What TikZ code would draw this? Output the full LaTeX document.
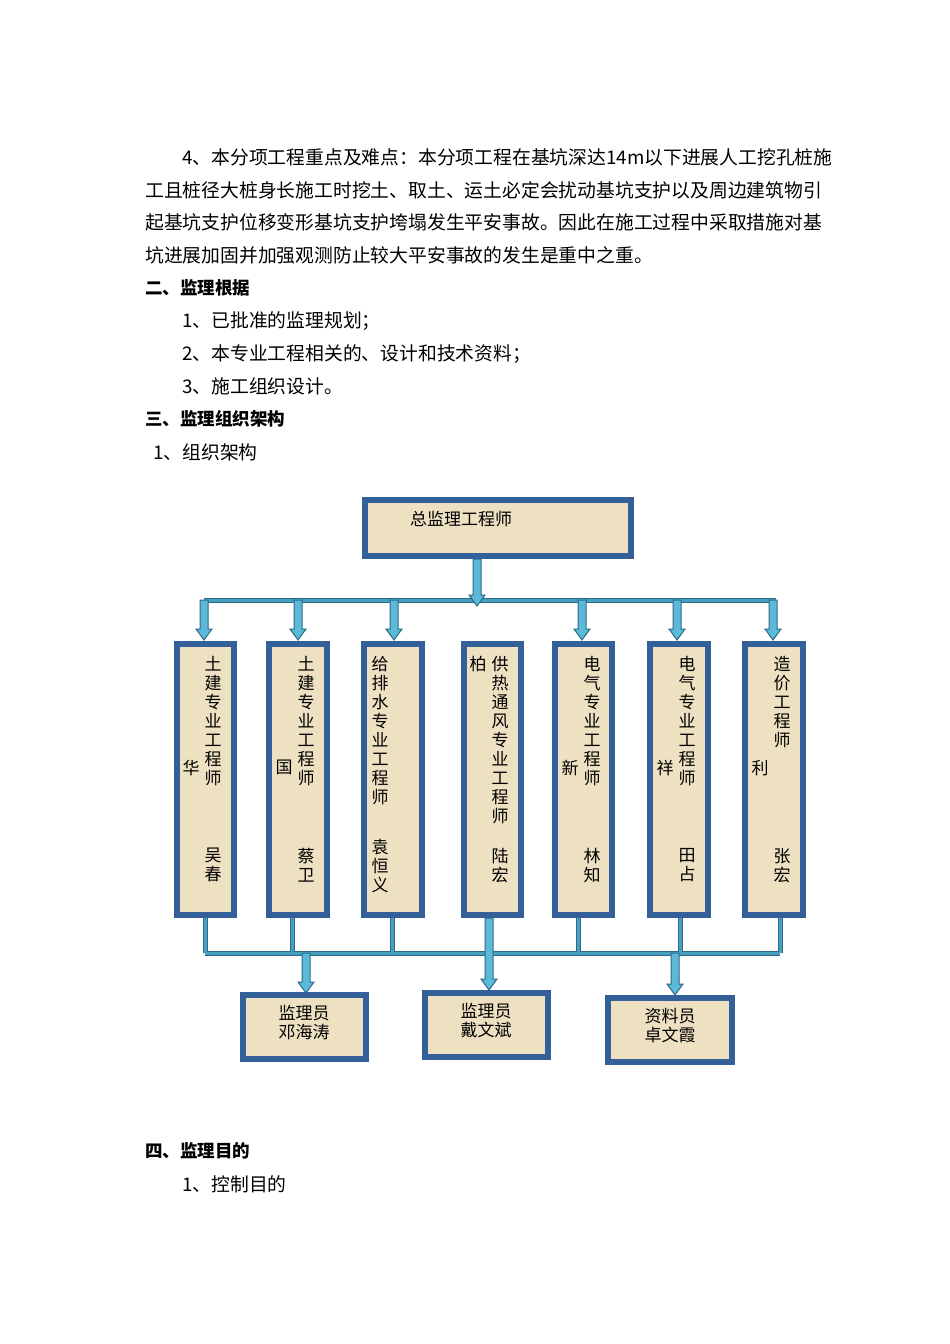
\documentclass[tikz,border=0pt]{standalone}
\usepackage{fontspec}
\setmainfont{Noto Sans CJK SC}
\begin{document}
\begin{tikzpicture}[x=1pt,y=-1pt,
  body/.style={anchor=west,inner sep=0pt,font=\fontsize{18.8}{20}\selectfont},
  head/.style={body,font=\fontsize{17.5}{20}\selectfont\bfseries},
  frame/.style={draw=boxblue,line width=6pt,fill=parch},
  vt/.style={inner sep=0pt,align=center,anchor=north,font=\fontsize{17}{19}\selectfont},
  conn/.style={line width=5pt,draw=lineedge},
  conni/.style={line width=3pt,draw=linefill}]
\definecolor{boxblue}{HTML}{34609A}
\definecolor{parch}{HTML}{EEE1C2}
\definecolor{lineedge}{HTML}{2C6A86}
\definecolor{linefill}{HTML}{47A0BF}
\definecolor{arrfill}{HTML}{5CB9DA}
\newcommand{\darr}[3]{\filldraw[fill=arrfill,draw=lineedge,line width=1pt]
  (#1-4,#2) -- (#1+4,#2) -- (#1+4,#3-11) -- (#1+8,#3-11) -- (#1,#3) -- (#1-8,#3-11) -- (#1-4,#3-11) -- cycle;}
\useasboundingbox (0,0) rectangle (950,1344);
% body text
\node[body] (l1) at (182,157) {4、本分项工程重点及难点：本分项工程在基坑深达14m以下进展人工挖孔桩施};
\node[body] (l2) at (145,190) {工且桩径大桩身长施工时挖土、取土、运土必定会扰动基坑支护以及周边建筑物引};
\node[body] (l3) at (145,222) {起基坑支护位移变形基坑支护垮塌发生平安事故。因此在施工过程中采取措施对基};
\node[body] (l4) at (145,255) {坑进展加固并加强观测防止较大平安事故的发生是重中之重。};
\node[head] (h2) at (145,288) {二、监理根据};
\node[body] (a1) at (182,321) {1、已批准的监理规划；};
\node[body] (a2) at (182,354) {2、本专业工程相关的、设计和技术资料；};
\node[body] (a3) at (182,386) {3、施工组织设计。};
\node[head] (h3) at (145,419) {三、监理组织架构};
\node[body] (b1) at (153,452) {1、组织架构};
\node[head] (h4) at (145,1151) {四、监理目的};
\node[body] (c1) at (182,1184) {1、控制目的};
% connectors
\foreach \s in {conn,conni}{
  \draw[\s] (204,600) -- (776,600);
  \draw[\s] (205,953) -- (780,953);
  \foreach \x/\y in {205/918,292/918,392/918,578/918,680/918,780/918}
    \draw[\s] (\x,\y) -- (\x,953);
}
\darr{477}{559}{606}
\foreach \x in {204,298,394,582,677,773} {\darr{\x}{600}{640}}
\darr{306}{953}{993}
\darr{675}{953}{995}
\darr{489}{918}{990}
% top box
\draw[frame] (365,500) rectangle (631,556);
\node[inner sep=0pt,anchor=west,font=\fontsize{17}{18}\selectfont] (top) at (410,519) {总监理工程师};
% vertical boxes
\foreach \xl/\xr in {174/237,266/330,361/425,461/524,552/615,647/711,742/806}
  \draw[frame] (\xl+3,644) rectangle (\xr-3,915);
\node[vt] (t1) at (213,656) {土\\建\\专\\业\\工\\程\\师};
\node[vt] (n1) at (191,760) {华};
\node[vt] (m1) at (213,848) {吴\\春};
\node[vt] (t2) at (306,656) {土\\建\\专\\业\\工\\程\\师};
\node[vt] (n2) at (284,760) {国};
\node[vt] (m2) at (306,848) {蔡\\卫};
\node[vt] (t3) at (380,656) {给\\排\\水\\专\\业\\工\\程\\师};
\node[vt] (m3) at (380,839) {袁\\恒\\义};
\node[vt] (n4) at (478,656) {柏};
\node[vt] (t4) at (500,656) {供\\热\\通\\风\\专\\业\\工\\程\\师};
\node[vt] (m4) at (500,848) {陆\\宏};
\node[vt] (t5) at (592,656) {电\\气\\专\\业\\工\\程\\师};
\node[vt] (n5) at (570,760) {新};
\node[vt] (m5) at (592,848) {林\\知};
\node[vt] (t6) at (687,656) {电\\气\\专\\业\\工\\程\\师};
\node[vt] (n6) at (665,760) {祥};
\node[vt] (m6) at (687,848) {田\\占};
\node[vt] (t7) at (782,656) {造\\价\\工\\程\\师};
\node[vt] (n7) at (760,760) {利};
\node[vt] (m7) at (782,848) {张\\宏};
% bottom boxes
\draw[frame] (243,995) rectangle (366,1059);
\node[vt,anchor=center] (p1) at (304,1023) {监理员\\邓海涛};
\draw[frame] (425,993) rectangle (548,1057);
\node[vt,anchor=center] (p2) at (486,1021) {监理员\\戴文斌};
\draw[frame] (608,998) rectangle (732,1062);
\node[vt,anchor=center] (p3) at (670,1026) {资料员\\卓文霞};
\end{tikzpicture}
\end{document}
